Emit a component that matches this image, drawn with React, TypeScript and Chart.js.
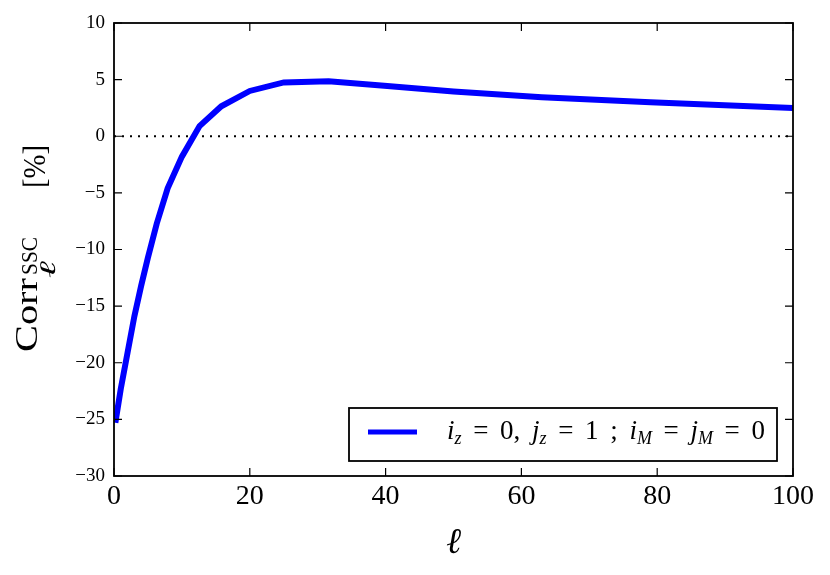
import React, { useEffect, useRef } from "react";
import { Chart, registerables } from "chart.js";

Chart.register(...registerables);

// ---- data ----
const ells = [0.2, 1, 2, 3, 4, 5, 6.3, 7.9, 10, 12.6, 15.8, 20, 25, 31.6, 39.8, 50, 63, 79, 100];
const corr = [-25.3, -22.3, -19.1, -15.9, -13.2, -10.7, -7.7, -4.6, -1.8, 0.9, 2.65, 4.0, 4.75, 4.85, 4.45, 3.95, 3.45, 3.0, 2.5];
const zeroLineX = [0, 100];
const xTickValues = [0, 20, 40, 60, 80, 100];
const yTickValues = [-30, -25, -20, -15, -10, -5, 0, 5, 10];

type Part = { t?: string; it?: boolean; sub?: boolean; gap?: boolean };
const legendParts: Part[] = [
  { t: "i", it: true }, { t: "z", it: true, sub: true }, { gap: true }, { t: "=" }, { gap: true }, { t: "0" }, { t: "," }, { gap: true },
  { t: "j", it: true }, { t: "z", it: true, sub: true }, { gap: true }, { t: "=" }, { gap: true }, { t: "1" }, { gap: true }, { t: ";" }, { gap: true },
  { t: "i", it: true }, { t: "M", it: true, sub: true }, { gap: true }, { t: "=" }, { gap: true },
  { t: "j", it: true }, { t: "M", it: true, sub: true }, { gap: true }, { t: "=" }, { gap: true }, { t: "0" },
];
const xTitle = "\u2113";
const yTitleMain = "Corr";
const yTitleSup = "SSC";
const yTitleSub = "\u2113";
const yTitleUnit = "[%]";

const SERIF = "'Liberation Serif', 'DejaVu Serif', serif";

function fmtMinus(v: number) {
  return v < 0 ? "\u2212" + Math.abs(v) : String(v);
}

const framePlugin = {
  id: "frameTicks",
  afterDraw(chart: any) {
    const ctx = chart.ctx as CanvasRenderingContext2D;
    const { left, right, top, bottom } = chart.chartArea;
    const xs = chart.scales.x;
    const ys = chart.scales.y;
    ctx.save();
    ctx.strokeStyle = "#000";
    ctx.lineWidth = 1.2;
    const tl = 8;
    xs.ticks.forEach((t: any) => {
      const px = xs.getPixelForValue(t.value);
      ctx.beginPath();
      ctx.moveTo(px, bottom);
      ctx.lineTo(px, bottom - tl);
      ctx.moveTo(px, top);
      ctx.lineTo(px, top + tl);
      ctx.stroke();
    });
    ys.ticks.forEach((t: any) => {
      const py = ys.getPixelForValue(t.value);
      ctx.beginPath();
      ctx.moveTo(left, py);
      ctx.lineTo(left + tl, py);
      ctx.moveTo(right, py);
      ctx.lineTo(right - tl, py);
      ctx.stroke();
    });
    ctx.lineWidth = 1.8;
    ctx.strokeRect(left, top, right - left, bottom - top);

    // legend
    const lx = 349, ly = 408, lw = 428, lh = 53;
    ctx.fillStyle = "#fff";
    ctx.fillRect(lx, ly, lw, lh);
    ctx.lineWidth = 1.8;
    ctx.strokeStyle = "#000";
    ctx.strokeRect(lx, ly, lw, lh);
    ctx.strokeStyle = "#0000ff";
    ctx.lineWidth = 5;
    ctx.beginPath();
    ctx.moveTo(368, 432);
    ctx.lineTo(417, 432);
    ctx.stroke();
    ctx.fillStyle = "#000";
    ctx.textBaseline = "alphabetic";
    ctx.textAlign = "left";
    const size = 27, subSize = 18;
    const font = (p: Part) => `${p.it ? "italic " : ""}${p.sub ? subSize : size}px ${SERIF}`;
    let natural = 0, gaps = 0;
    legendParts.forEach((p) => {
      if (p.gap) gaps++;
      else {
        ctx.font = font(p);
        natural += ctx.measureText(p.t as string).width;
      }
    });
    const targetW = 318;
    const g = gaps ? Math.max(0, (targetW - natural) / gaps) : 0;
    let x = 447;
    legendParts.forEach((p) => {
      if (p.gap) {
        x += g;
        return;
      }
      ctx.font = font(p);
      ctx.fillText(p.t as string, x, 439 + (p.sub ? 5 : 0));
      x += ctx.measureText(p.t as string).width;
    });

    // x title
    ctx.font = `italic 36px ${SERIF}`;
    ctx.textAlign = "center";
    ctx.fillText(xTitle, (left + right) / 2, 553);

    // y title (rotated), pieces fitted along the text direction
    ctx.save();
    ctx.translate(0, 352);
    ctx.rotate(-Math.PI / 2);
    ctx.textAlign = "left";
    const fitText = (txt: string, f: string, start: number, len: number, baseX: number) => {
      ctx.font = f;
      const w = ctx.measureText(txt).width;
      ctx.save();
      ctx.translate(start, baseX);
      ctx.scale(len / w, 1);
      ctx.fillText(txt, 0, 0);
      ctx.restore();
    };
    fitText(yTitleMain, `32px ${SERIF}`, 0, 74, 37);
    fitText(yTitleSup, `23px ${SERIF}`, 77, 38, 37);
    fitText(yTitleSub, `italic 22px ${SERIF}`, 74, 17, 55);
    fitText(yTitleUnit, `32px ${SERIF}`, 164, 43, 45);
    ctx.restore();

    ctx.restore();
  },
};

export default function App() {
  const ref = useRef<HTMLCanvasElement | null>(null);
  useEffect(() => {
    if (!ref.current) return;
    const chart = new Chart(ref.current, {
      type: "line",
      data: {
        datasets: [
          {
            data: ells.map((x, i) => ({ x, y: corr[i] })),
            borderColor: "#0000ff",
            borderWidth: 6,
            pointRadius: 0,
            tension: 0,
            fill: false,
          },
          {
            data: zeroLineX.map((x) => ({ x, y: 0 })),
            borderColor: "#000",
            borderWidth: 2,
            borderDash: [2, 6],
            pointRadius: 0,
            fill: false,
          },
        ],
      },
      options: {
        animation: false,
        responsive: false,
        devicePixelRatio: 1,
        layout: { padding: { top: 23, right: 37, left: 0, bottom: 0 } },
        plugins: { legend: { display: false }, tooltip: { enabled: false } },
        scales: {
          x: {
            type: "linear",
            min: 0,
            max: 100,
            afterBuildTicks: (s: any) => {
              s.ticks = xTickValues.map((v) => ({ value: v }));
            },
            afterFit: (s: any) => {
              s.height = 99;
            },
            ticks: {
              font: { family: SERIF, size: 28 },
              color: "#000",
              padding: 4,
              maxRotation: 0,
              autoSkip: false,
              callback: (v: any) => fmtMinus(Number(v)),
            },
            grid: { display: false, drawTicks: false },
            border: { display: false },
          },
          y: {
            type: "linear",
            min: -30,
            max: 10,
            afterBuildTicks: (s: any) => {
              s.ticks = yTickValues.map((v) => ({ value: v }));
            },
            afterFit: (s: any) => {
              s.width = 114;
            },
            ticks: {
              font: { family: SERIF, size: 19 },
              color: "#000",
              padding: 9,
              autoSkip: false,
              callback: (v: any) => fmtMinus(Number(v)),
            },
            grid: { display: false, drawTicks: false },
            border: { display: false },
          },
        },
      } as any,
      plugins: [framePlugin],
    });
    return () => chart.destroy();
  }, []);
  return (
    <div style={{ position: "fixed", left: 0, top: 0, width: 830, height: 575, background: "#fff" }}>
      <canvas ref={ref} width={830} height={575} style={{ display: "block" }} />
    </div>
  );
}
